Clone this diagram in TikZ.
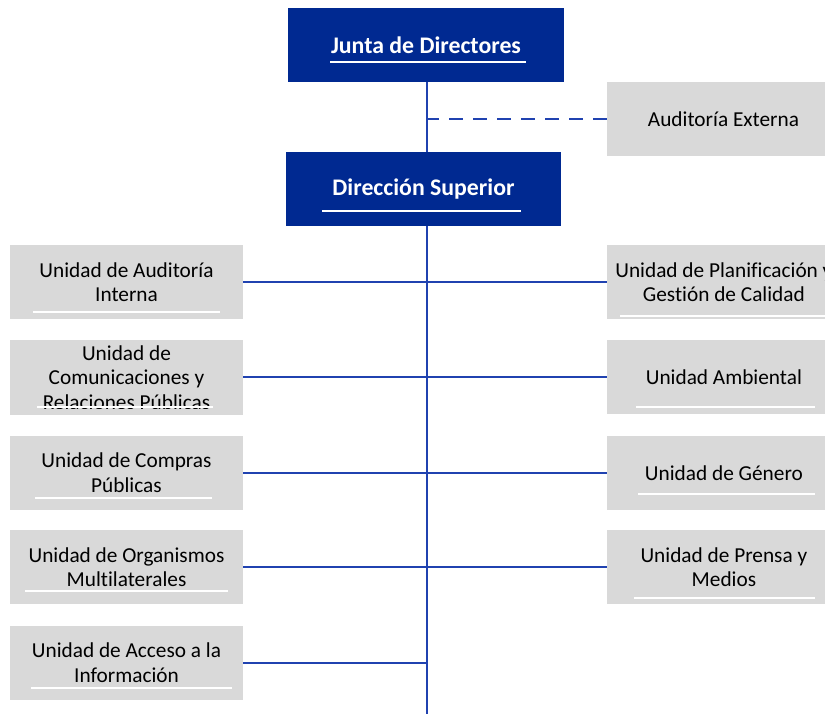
\documentclass[tikz,border=0pt]{standalone}
\usepackage{fontspec}
\setmainfont{Carlito}[Ligatures={NoCommon}]
\usepackage{tikz}
\usetikzlibrary{calc,positioning,backgrounds}
\definecolor{dirblue}{RGB}{0,41,145}
\definecolor{linkblue}{RGB}{32,66,176}
\definecolor{unitgray}{RGB}{217,217,217}
\tikzstyle{dirbox}=[rectangle,fill=dirblue,text=white,minimum width=276pt,
                minimum height=74pt,inner sep=0pt,font=\fontsize{23.8}{28}\selectfont\bfseries]
\tikzstyle{unitbox}=[rectangle,fill=unitgray,text=black,minimum width=233pt,
                minimum height=74pt,inner ysep=0pt,align=center,
                font=\fontsize{21.3}{24.5}\selectfont]
\tikzstyle{link}=[draw=linkblue,line width=2pt]
\tikzstyle{extlink}=[draw=linkblue,line width=2pt,dash pattern=on 14pt off 10pt]
\tikzstyle{uline}=[draw=white,line width=2pt]

\begin{document}
\begin{tikzpicture}[x=1pt,y=-1pt]
  \useasboundingbox (0,0) rectangle (825,714);
  \node[dirbox] (junta) at (426,45) {Junta de Directores};
  \node[dirbox,minimum width=275pt] (direc) at (423.5,189) {Dirección Superior};
  \node[unitbox] (audext) at (723.5,119) {Auditoría Externa};
  \coordinate (spine) at (427,714);

  \node[unitbox] (uaudint) at (126.5,282) {Unidad de Auditoría\\Interna};
  \node[unitbox,below=21pt of uaudint] (ucomun) {Unidad de\\Comunicaciones y\\Relaciones Públicas};
  \node[unitbox,below=21pt of ucomun] (ucompras) {Unidad de Compras\\Públicas};
  \node[unitbox,below=20pt of ucompras] (uorgan) {Unidad de Organismos\\Multilaterales};
  \node[unitbox,below=21pt of uorgan] (uacceso) {Unidad de Acceso a la\\Información};

  \node[unitbox,right=364pt of uaudint] (uplanif) {Unidad de Planificación y\\Gestión de Calidad};
  \node[unitbox,below=21pt of uplanif] (uambien) {Unidad Ambiental};
  \node[unitbox,below=21pt of uambien] (ugenero) {Unidad de Género};
  \node[unitbox,below=20pt of ugenero] (uprensa) {Unidad de Prensa y\\Medios};

  \fill[unitgray] ($(ucomun.south west)+(0,-6)$) rectangle (ucomun.south east);

  \draw[uline] (330,62) -- (526,62);
  \draw[uline] (322,211) -- (521,211);
  \draw[uline] (33,312) -- (220,312);
  \draw[uline] (37,407) -- (213,407);
  \draw[uline] (35,498) -- (212,498);
  \draw[uline] (25,591) -- (228,591);
  \draw[uline] (31,688) -- (232,688);
  \draw[uline] (620,316) -- (840,316);
  \draw[uline] (636,407) -- (815,407);
  \draw[uline] (638,494) -- (815,494);
  \draw[uline] (634,598) -- (815,598);

  \begin{scope}[on background layer]
    \draw[link] (junta.south -| spine) -- (spine);
    \draw[extlink] (audext.west) -- (audext.west -| spine);
    \draw[link] (uaudint.east) -- (uaudint.east -| spine) -- (uplanif.west);
    \draw[link] (ucomun.east) -- (ucomun.east -| spine) -- (uambien.west);
    \draw[link] (ucompras.east) -- (ucompras.east -| spine) -- (ugenero.west);
    \draw[link] (uorgan.east) -- (uorgan.east -| spine) -- (uprensa.west);
    \draw[link] (uacceso.east) -- (uacceso.east -| spine);
  \end{scope}
\end{tikzpicture}
\end{document}
